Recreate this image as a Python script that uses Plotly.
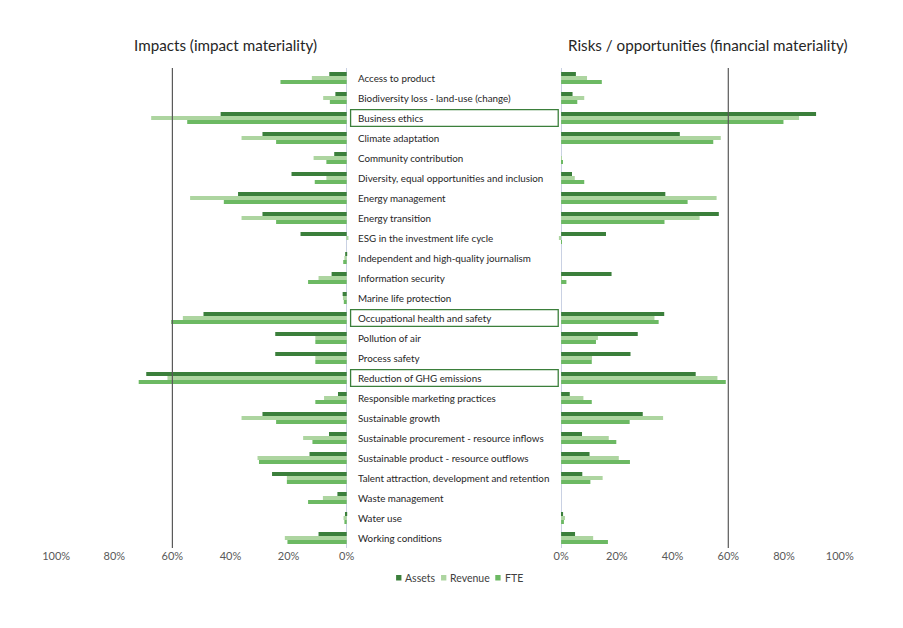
import plotly.graph_objects as go

categories = [
    "Access to product",
    "Biodiversity loss - land-use (change)",
    "Business ethics",
    "Climate adaptation",
    "Community contribution",
    "Diversity, equal opportunities and inclusion",
    "Energy management",
    "Energy transition",
    "ESG in the investment life cycle",
    "Independent and high-quality journalism",
    "Information security",
    "Marine life protection",
    "Occupational health and safety",
    "Pollution of air",
    "Process safety",
    "Reduction of GHG emissions",
    "Responsible marketing practices",
    "Sustainable growth",
    "Sustainable procurement - resource inflows",
    "Sustainable product - resource outflows",
    "Talent attraction, development and retention",
    "Waste management",
    "Water use",
    "Working conditions",
]

impact_assets = [6.0, 3.9, 43.4, 29.0, 4.3, 19.0, 37.4, 29.0, 15.9, 0.4, 5.2, 1.4,
                 49.3, 24.6, 24.6, 69.0, 3.0, 29.0, 6.1, 12.8, 25.7, 3.2, 0.6, 9.7]
impact_revenue = [12.0, 8.1, 67.3, 36.2, 11.4, 7.0, 53.9, 36.2, -0.6, 0.8, 9.7, 1.3,
                  56.4, 10.8, 10.8, 61.7, 7.8, 36.2, 15.0, 30.7, 20.6, 8.2, 1.1, 21.3]
impact_fte = [22.8, 5.8, 54.9, 24.3, 7.0, 11.0, 42.3, 24.3, 0.0, 1.2, 13.3, 1.0,
              60.4, 10.8, 10.8, 71.6, 10.8, 24.3, 11.8, 30.2, 20.6, 13.3, 0.8, 20.4]

risk_assets = [5.3, 4.1, 91.5, 42.6, 0.0, 3.9, 37.4, 56.6, 16.1, 0.0, 18.1, 0.0,
               37.0, 27.5, 24.9, 48.3, 3.1, 29.3, 7.5, 10.2, 7.6, 0.0, 0.7, 5.0]
risk_revenue = [9.3, 8.3, 85.4, 57.3, 0.3, 4.9, 55.8, 49.7, -0.8, 0.0, 0.3, 0.0,
                33.5, 13.2, 11.1, 56.1, 8.0, 36.6, 17.1, 20.7, 14.9, 0.0, 1.4, 11.5]
risk_fte = [14.6, 5.8, 79.8, 54.6, 0.6, 8.3, 45.4, 37.1, 0.3, 0.0, 1.9, 0.0,
            35.0, 12.5, 11.0, 59.1, 11.0, 24.6, 19.8, 24.7, 10.5, 0.0, 1.0, 16.8]

highlighted = ["Business ethics", "Occupational health and safety", "Reduction of GHG emissions"]
threshold = 60
tick_values = [0, 20, 40, 60, 80, 100]
tick_labels = ["0%", "20%", "40%", "60%", "80%", "100%"]
left_title = "Impacts (impact materiality)"
right_title = "Risks / opportunities (financial materiality)"
series_names = ["Assets", "Revenue", "FTE"]

colors = ["#3B7F3B", "#ADD5A0", "#6CB963"]
FONT = "Lato, 'Open Sans', sans-serif"

# The page has an 8px body margin, so the figure is 887 x 612 placed at (8, 8).
FW, FH, OFF = 887, 612, 8

def px_x(p):
    return (p - OFF) / FW

def px_y(p):
    return 1 - (p - OFF) / FH

idx = list(range(len(categories)))
fig = go.Figure()
for name, col, vals in zip(series_names, colors, [impact_assets, impact_revenue, impact_fte]):
    fig.add_trace(go.Bar(y=idx, x=vals, orientation="h", name=name, marker_color=col,
                         marker_line_width=0, xaxis="x", yaxis="y", legendgroup=name,
                         showlegend=False, hoverinfo="x+name"))
for name, col, vals in zip(series_names, colors, [risk_assets, risk_revenue, risk_fte]):
    fig.add_trace(go.Bar(y=idx, x=vals, orientation="h", name=name, marker_color=col,
                         marker_line_width=0, xaxis="x2", yaxis="y2", legendgroup=name,
                         showlegend=False, hoverinfo="x+name"))

# plot geometry (reference pixels)
left_zero, left_px_per = 343.3, 3.0
right_zero, right_px_per = 564.7, 2.877
neg = 2.2
ytop, ybot = 68, 548

tickfont = dict(family=FONT, size=11, color="#595959")
common_y = dict(domain=[px_y(ybot), px_y(ytop)], range=[len(categories) - 0.5, -0.5],
                showticklabels=False, showgrid=False, zeroline=False, showline=False)
fig.update_layout(
    width=FW, height=FH,
    margin=dict(l=0, r=0, t=0, b=0),
    paper_bgcolor="white", plot_bgcolor="rgba(0,0,0,0)",
    barmode="group", bargap=0.4, bargroupgap=0,
    font=dict(family=FONT, color="#404040"),
    showlegend=False,
    xaxis=dict(domain=[px_x(left_zero - 100 * left_px_per), px_x(left_zero + neg * left_px_per)],
               range=[100, -neg], tickvals=tick_values, ticktext=tick_labels, tickfont=tickfont,
               showgrid=False, zeroline=True, zerolinecolor="#C9D1E3", zerolinewidth=1,
               showline=False, ticks="", anchor="y"),
    yaxis=dict(anchor="x", **common_y),
    xaxis2=dict(domain=[px_x(right_zero - neg * right_px_per), px_x(right_zero + 100 * right_px_per)],
                range=[-neg, 100], tickvals=tick_values, ticktext=tick_labels, tickfont=tickfont,
                showgrid=False, zeroline=True, zerolinecolor="#C9D1E3", zerolinewidth=1,
                showline=False, ticks="", anchor="y2"),
    yaxis2=dict(anchor="x2", **common_y),
)

# threshold lines
for xr, yr in [("x", "y domain"), ("x2", "y2 domain")]:
    fig.add_shape(type="line", xref=xr, yref=yr, x0=threshold, x1=threshold, y0=0, y1=1,
                  line=dict(color="#595959", width=1.2), layer="above")

# category labels and highlight boxes
for i, c in enumerate(categories):
    fig.add_annotation(x=px_x(353), xref="paper", y=i, yref="y", text=c, showarrow=False,
                       xanchor="left", yanchor="middle",
                       font=dict(family=FONT, size=9.8, color="#262626"))
    if c in highlighted:
        fig.add_shape(type="rect", xref="paper", yref="y", x0=px_x(347.3), x1=px_x(561.7),
                      y0=i - 0.42, y1=i + 0.42, line=dict(color="#3B7F3B", width=1.3),
                      fillcolor="rgba(0,0,0,0)")

# panel titles
for txt, xc in [(left_title, 218), (right_title, 716)]:
    fig.add_annotation(x=px_x(xc), xref="paper", y=px_y(45), yref="paper", text=txt,
                       showarrow=False, xanchor="center", yanchor="middle",
                       font=dict(family=FONT, size=15.2, color="#262626"))

# legend (squares + labels)
legend_sq_x = [394.3, 440.7, 496.7]
for name, col, sx in zip(series_names, colors, legend_sq_x):
    fig.add_shape(type="rect", xref="paper", yref="paper",
                  x0=px_x(sx), x1=px_x(sx + 5.5), y0=px_y(580.5), y1=px_y(575),
                  fillcolor=col, line=dict(width=0))
    fig.add_annotation(x=px_x(sx + 7.5), xref="paper", y=px_y(577.5), yref="paper", text=name,
                       showarrow=False, xanchor="left", yanchor="middle",
                       font=dict(family=FONT, size=10.5, color="#404040"))

fig.write_html("out.html")
